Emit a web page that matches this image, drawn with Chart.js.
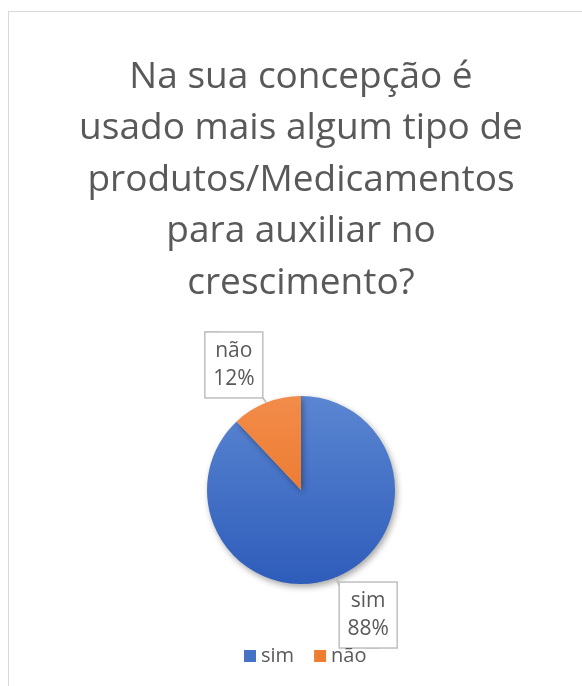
<!DOCTYPE html>
<html>
<head>
<meta charset="utf-8">
<script src="https://cdn.jsdelivr.net/npm/chart.js@4"></script>
<style>
  html, body { margin: 0; padding: 0; background: #fff; }
  #wrap { position: relative; width: 582px; height: 686px; overflow: hidden; }
  #frame { position: absolute; left: 8px; top: 11px; width: 700px; height: 800px; border: 1.5px solid #d9d9d9; }
  canvas { position: absolute; left: 0; top: 0; }
</style>
</head>
<body>
<div id="wrap">
  <div id="frame"></div>
  <canvas id="pie" width="582" height="686"></canvas>
</div>
<script>
// chart data
var titleLines = ['Na sua concepção é', 'usado mais algum tipo de', 'produtos/Medicamentos', 'para auxiliar no', 'crescimento?'];
var labels = ['sim', 'não'];
var values = [88, 12];
var topColors = ['#5b86d2', '#f28c4a'];
var bottomColors = ['#2e5cba', '#e86d1c'];

var FONT = '"Open Sans", "Noto Sans", sans-serif';
var TEXT = '#595959';

function sliceColor(ctx) {
  var chart = ctx.chart;
  var area = chart.chartArea;
  if (!area) return topColors[ctx.dataIndex];
  var g = chart.ctx.createLinearGradient(0, area.top, 0, area.bottom);
  g.addColorStop(0, topColors[ctx.dataIndex]);
  g.addColorStop(1, bottomColors[ctx.dataIndex]);
  return g;
}

// title + legend + callouts drawn by hand
var decor = {
  id: 'decor',
  beforeDatasetsDraw: function(chart) {
    var c = chart.ctx;
    c.save();
    c.shadowColor = 'rgba(0,0,0,0.35)';
    c.shadowBlur = 6;
    c.shadowOffsetX = 2;
    c.shadowOffsetY = 3;
  },
  afterDatasetsDraw: function(chart) {
    var c = chart.ctx;
    c.restore();

    // title
    c.save();
    c.fillStyle = TEXT;
    c.font = '37px ' + FONT;
    c.textAlign = 'center';
    c.textBaseline = 'middle';
    for (var i = 0; i < titleLines.length; i++) {
      c.fillText(titleLines[i], 301, 77 + i * 51.5);
    }
    c.restore();

    // callouts
    var meta = chart.getDatasetMeta(0);
    var total = values.reduce(function(a, b) { return a + b; }, 0);
    meta.data.forEach(function(arc, i) {
      var mid = (arc.startAngle + arc.endAngle) / 2;
      var r = arc.outerRadius;
      var la = mid - 0.116;
      var lx = arc.x + 1.51 * r * Math.cos(la);
      var ly = arc.y + 1.51 * r * Math.sin(la);
      var tx = arc.x + r * Math.cos(mid);
      var ty = arc.y + r * Math.sin(mid);
      var w = 58, h = 66;
      var x0 = lx - w / 2, y0 = ly - h / 2;
      c.save();
      c.strokeStyle = '#bfbfbf';
      c.lineWidth = 1.5;
      c.fillStyle = '#fff';
      // tail
      var ey = ty < ly ? y0 + h : y0;
      var ex = ty < ly ? lx + 4 : lx - 22;
      c.beginPath();
      c.moveTo(ex - 6, ey);
      c.lineTo(tx, ty);
      c.lineTo(ex + 6, ey);
      c.closePath();
      c.fill();
      c.stroke();
      c.fillRect(x0, y0, w, h);
      c.strokeRect(x0, y0, w, h);
      c.fillStyle = TEXT;
      c.font = '21px ' + FONT;
      c.textAlign = 'center';
      c.textBaseline = 'middle';
      c.fillText(labels[i], lx, ly - 14);
      c.fillText(Math.round(values[i] / total * 100) + '%', lx, ly + 14);
      c.restore();
    });

    // legend
    c.save();
    c.font = '20px ' + FONT;
    c.textBaseline = 'middle';
    var x = 244, y = 656;
    labels.forEach(function(lab, i) {
      c.fillStyle = i === 0 ? '#4472c4' : '#ed7d31';
      c.fillRect(x, y - 6, 12, 12);
      c.fillStyle = TEXT;
      c.fillText(lab, x + 17, y);
      x += 17 + c.measureText(lab).width + 20;
    });
    c.restore();
  }
};

new Chart(document.getElementById('pie'), {
  type: 'pie',
  data: {
    labels: labels,
    datasets: [{
      data: values,
      backgroundColor: sliceColor,
      borderWidth: 0
    }]
  },
  options: {
    responsive: false,
    animation: false,
    layout: { padding: { left: 207, right: 187, top: 396, bottom: 102 } },
    plugins: {
      legend: { display: false },
      title: { display: false },
      tooltip: { enabled: false }
    }
  },
  plugins: [decor]
});
</script>
</body>
</html>
